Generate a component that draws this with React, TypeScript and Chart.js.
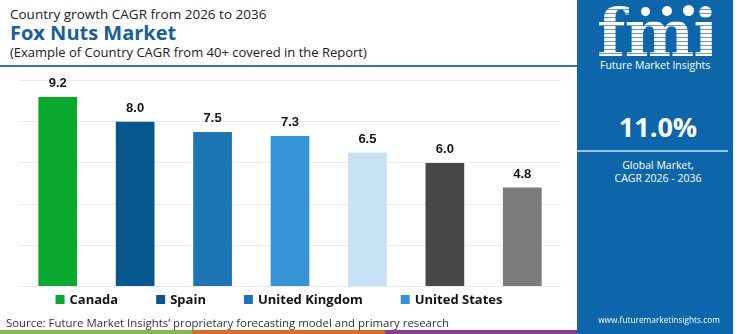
import React, { useEffect, useRef } from "react";
import { Chart, registerables } from "chart.js";

Chart.register(...registerables);

// ---- data ----
const countries = ["Canada", "Spain", "United Kingdom", "United States", "Germany", "France", "Japan"];
const cagrValues = [9.2, 8.0, 7.5, 7.3, 6.5, 6.0, 4.8];
const barColors = ["#0aa82f", "#07578f", "#1d76b3", "#3494d6", "#c6e2f4", "#484848", "#7b7b7b"];
const yAxisMax = 10;
const yAxisStep = 2;
const globalCagr = "11.0%";
const chartSubtitle = "Country growth CAGR from 2026 to 2036";
const chartTitle = "Fox Nuts Market";
const chartNote = "(Example of Country CAGR from 40+ covered in the Report)";
const sourceText = "Source: Future Market Insights\u2019 proprietary forecasting model and primary research";

const valueLabelPlugin = {
  id: "valueLabels",
  afterDatasetsDraw(chart: any) {
    const ctx = chart.ctx;
    const meta = chart.getDatasetMeta(0);
    ctx.save();
    ctx.font = "bold 13px 'Liberation Sans', Arial, sans-serif";
    ctx.fillStyle = "#141414";
    ctx.textAlign = "center";
    ctx.textBaseline = "bottom";
    meta.data.forEach((bar: any, i: number) => {
      ctx.fillText(cagrValues[i].toFixed(1), bar.x, bar.y - 7);
    });
    ctx.restore();
  },
};

const rowLegendPlugin = {
  id: "rowLegend",
  afterDraw(chart: any) {
    const ctx = chart.ctx;
    ctx.save();
    ctx.font = "bold 13px 'Open Sans', sans-serif";
    const box = 9;
    const gap = 5;
    const spacing = 38;
    const maxW = chart.width - 40;
    const items: { i: number; w: number }[] = [];
    let total = 0;
    for (let i = 0; i < countries.length; i++) {
      const w = box + gap + ctx.measureText(countries[i]).width;
      const add = (items.length ? spacing : 0) + w;
      if (total + add > maxW) break;
      items.push({ i, w });
      total += add;
    }
    const area = chart.chartArea;
    let x = (area.left + area.right - total) / 2 - 11;
    const y = area.bottom + 13;
    ctx.textBaseline = "middle";
    ctx.textAlign = "left";
    items.forEach(({ i, w }) => {
      ctx.fillStyle = barColors[i];
      ctx.fillRect(x, y - box / 2, box, box);
      ctx.fillStyle = "#111";
      ctx.fillText(countries[i], x + box + gap, y + 1);
      x += w + spacing;
    });
    ctx.restore();
  },
};

function BarChart() {
  const ref = useRef<HTMLCanvasElement | null>(null);
  useEffect(() => {
    if (!ref.current) return;
    const chart = new Chart(ref.current, {
      type: "bar",
      data: {
        labels: countries,
        datasets: [
          {
            data: cagrValues,
            backgroundColor: barColors,
            borderWidth: 0,
            barPercentage: 0.5,
            categoryPercentage: 1,
          },
        ],
      },
      options: {
        animation: false,
        responsive: false,
        maintainAspectRatio: false,
        layout: { padding: { left: 19, right: 16, top: 14.5, bottom: 33.5 } },
        plugins: {
          legend: { display: false },
          tooltip: { enabled: false },
        },
        scales: {
          x: { display: false },
          y: {
            display: true,
            min: 0,
            max: yAxisMax,
            ticks: { display: false, stepSize: yAxisStep },
            grid: { color: "#ececec", lineWidth: 1, drawTicks: false, tickLength: 0 },
            border: { display: false },
          },
        },
      },
      plugins: [valueLabelPlugin, rowLegendPlugin],
    } as any);
    return () => chart.destroy();
  }, []);
  return (
    <canvas
      ref={ref}
      width={577}
      height={254}
      style={{ position: "absolute", left: 0, top: 66, width: 577, height: 254 }}
    />
  );
}

export default function App() {
  const sans = "'Open Sans', sans-serif";
  return (
    <div
      style={{
        position: "fixed",
        left: 0,
        top: 0,
        width: 750,
        height: 334,
        background: "#ffffff",
        overflow: "hidden",
        fontFamily: sans,
      }}
    >
      <div style={{ position: "absolute", left: 10, top: 5, fontSize: 13.5, color: "#222", whiteSpace: "nowrap", lineHeight: "18px" }}>
        {chartSubtitle}
      </div>
      <div style={{ position: "absolute", left: 10, top: 20, fontSize: 20, fontWeight: 700, color: "#17609b", whiteSpace: "nowrap", lineHeight: "26px" }}>
        {chartTitle}
      </div>
      <div style={{ position: "absolute", left: 10, top: 43, fontSize: 13, color: "#222", whiteSpace: "nowrap", lineHeight: "18px" }}>
        {chartNote}
      </div>
      <div style={{ position: "absolute", left: 0, top: 65, width: 577, height: 2, background: "#3674ad" }} />
      <BarChart />
      <div style={{ position: "absolute", left: 6, top: 314, fontSize: 11.4, color: "#333", whiteSpace: "nowrap", lineHeight: "17px" }}>
        {sourceText}
      </div>
      <div style={{ position: "absolute", left: 0, top: 330, width: 192, height: 4, background: "#86b94a" }} />
      <div style={{ position: "absolute", left: 192, top: 330, width: 193, height: 4, background: "#e0692e" }} />
      <div style={{ position: "absolute", left: 385, top: 330, width: 192, height: 4, background: "#8b3a8e" }} />
      {/* right panel */}
      <div style={{ position: "absolute", left: 577, top: 0, width: 156, height: 334, background: "#0e66aa", color: "#fff" }}>
        <div
          style={{
            position: "absolute",
            left: 20,
            top: 2,
            width: 115,
            textAlign: "center",
            fontSize: 66,
            fontWeight: 800,
            lineHeight: "62px",
            fontFamily: "'DejaVu Serif', serif",
            letterSpacing: -1,
            backgroundImage: "repeating-linear-gradient(180deg, #ffffff 0px, #ffffff 3px, rgba(255,255,255,0.35) 3px, rgba(255,255,255,0.35) 4px)",
            WebkitBackgroundClip: "text",
            backgroundClip: "text",
            color: "transparent",
          }}
        >
          fmi
        </div>
        <div style={{ position: "absolute", left: 64, top: 7, width: 9, height: 9, borderRadius: 5, background: "#fff" }} />
        <div style={{ position: "absolute", left: 85, top: 6, width: 10, height: 10, borderRadius: 5, background: "#fff" }} />
        <div style={{ position: "absolute", left: 106, top: 5, width: 11, height: 11, borderRadius: 6, background: "#fff" }} />
        <div style={{ position: "absolute", left: 23, top: 57, width: 108, fontSize: 10.5, whiteSpace: "nowrap", lineHeight: "16px", textAlign: "center" }}>
          Future Market Insights
        </div>
        <div style={{ position: "absolute", left: 0, top: 109, width: 162, textAlign: "center", fontSize: 27, fontWeight: 700, lineHeight: "36px" }}>
          {globalCagr}
        </div>
        <div style={{ position: "absolute", left: 0, top: 150, width: 151, height: 1.5, background: "rgba(255,255,255,0.6)" }} />
        <div style={{ position: "absolute", left: 0, top: 159, width: 162, textAlign: "center", fontSize: 10.5, lineHeight: "13px" }}>
          Global Market,
          <br />
          CAGR 2026 - 2036
        </div>
        <div style={{ position: "absolute", left: 4, top: 313, width: 156, textAlign: "center", fontSize: 8.3, lineHeight: "14px", whiteSpace: "nowrap" }}>
          www.futuremarketinsights.com
        </div>
      </div>
    </div>
  );
}
